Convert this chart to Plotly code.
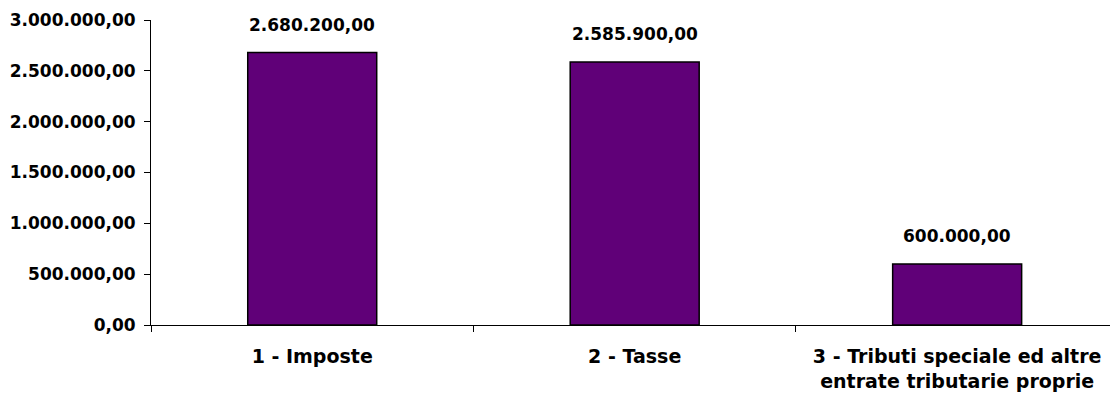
import plotly.graph_objects as go

# Entrate tributarie per tipologia
categorie = [
    "1 - Imposte",
    "2 - Tasse",
    "3 - Tributi speciale ed altre<br>entrate tributarie proprie",
]
importi = [2680200.00, 2585900.00, 600000.00]
tick_valori = [0, 500000, 1000000, 1500000, 2000000, 2500000, 3000000]

FAMIGLIA = "DejaVu Sans, Arial, sans-serif"
FONT_VALORI = dict(family=FAMIGLIA, size=17, color="black", weight="bold")
FONT_CATEGORIE = dict(family=FAMIGLIA, size=19, color="black", weight="bold")
VIOLA = "#600078"

fig = go.Figure()
fig.add_trace(
    go.Bar(
        x=categorie,
        y=importi,
        marker=dict(color=VIOLA, line=dict(color="black", width=1.5)),
        width=0.4,
        hoverinfo="skip",
    )
)

# etichette dei valori sopra le barre
for cat, val in zip(categorie, importi):
    fig.add_annotation(
        x=cat,
        y=val,
        text=f"{val:,.2f}".replace(",", "X").replace(".", ",").replace("X", "."),
        showarrow=False,
        yanchor="bottom",
        yshift=16,
        font=FONT_VALORI,
    )

fig.update_layout(
    width=1110,
    height=401,
    margin=dict(l=151, r=0, t=20, b=76),
    paper_bgcolor="white",
    plot_bgcolor="white",
    separators=",.",
    showlegend=False,
    font=FONT_VALORI,
)

fig.update_xaxes(
    type="category",
    range=[-0.5, 2.474],
    showline=True,
    linecolor="black",
    linewidth=1,
    ticks="outside",
    tickson="boundaries",
    ticklen=6,
    tickcolor="black",
    tickfont=FONT_CATEGORIE,
    showgrid=False,
    zeroline=False,
    ticklabelstandoff=14,
)

fig.update_yaxes(
    range=[0, 3000000],
    tickvals=tick_valori,
    tickformat=",.2f",
    showline=True,
    linecolor="black",
    linewidth=1,
    ticks="outside",
    ticklen=6,
    tickcolor="black",
    tickfont=FONT_VALORI,
    showgrid=False,
    zeroline=False,
    ticklabelstandoff=5,
)

fig.write_html("out.html")
